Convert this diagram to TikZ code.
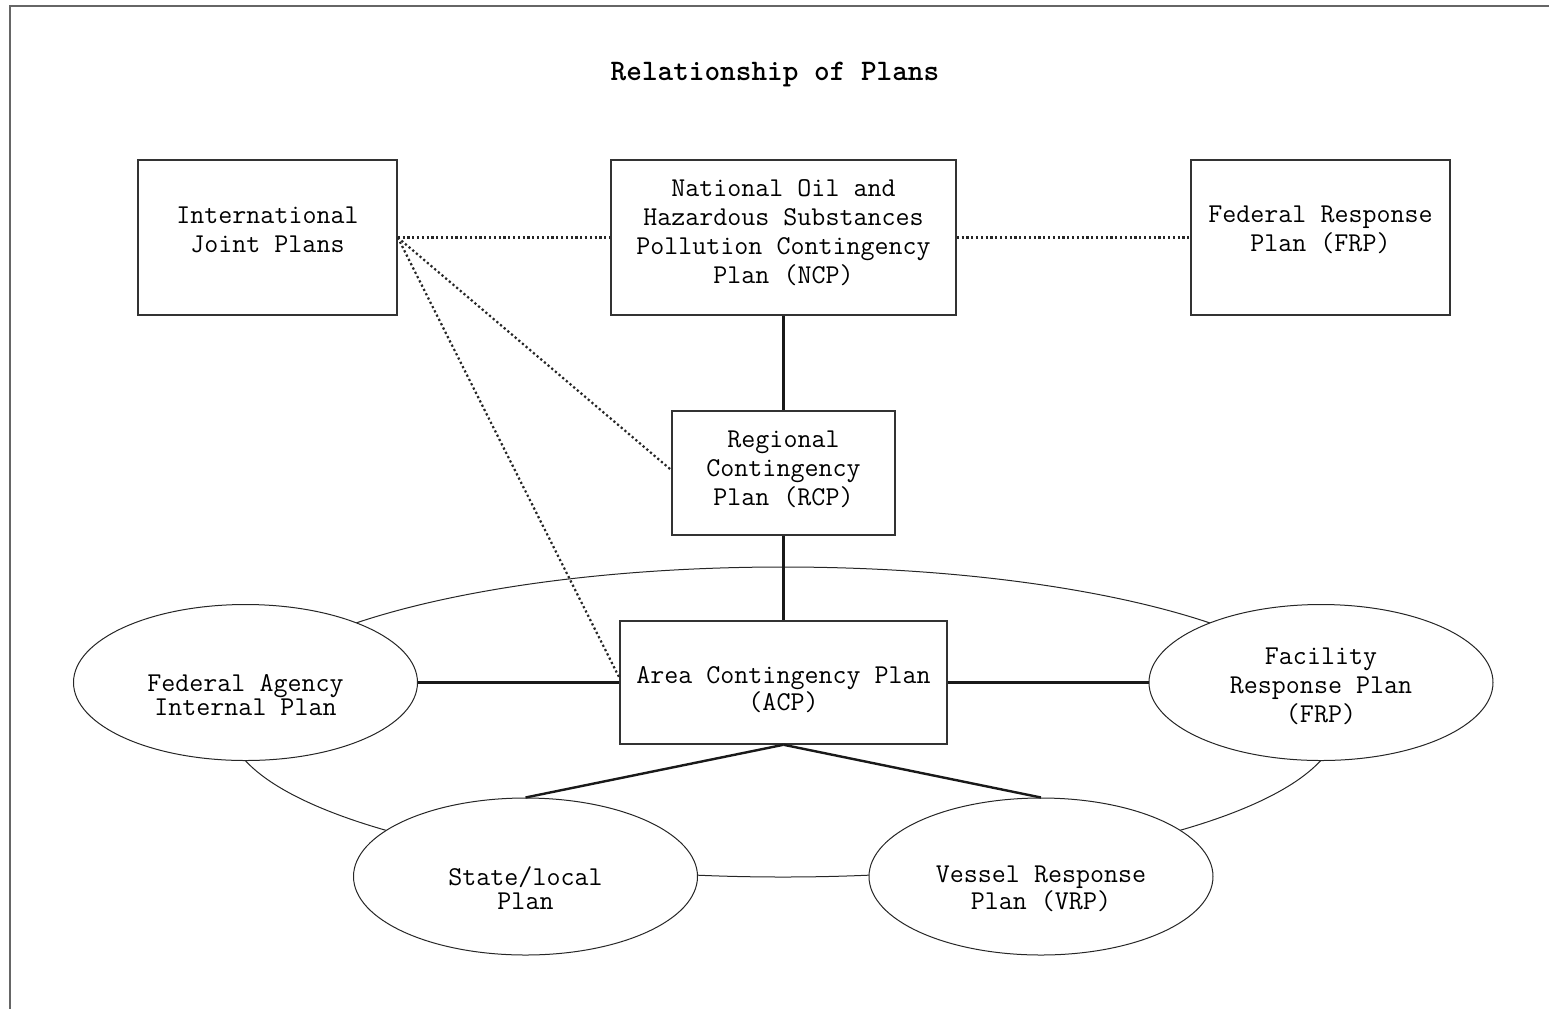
\documentclass[tikz,border=0pt]{standalone}
\usepackage{fontspec}
\usetikzlibrary{shapes.geometric}

\begin{document}
\begin{tikzpicture}[x=0.5pt,y=-0.5pt,
  plan/.style={draw=black!80, line width=0.75pt, rectangle, inner sep=0pt},
  oval/.style={draw=black!85, line width=0.5pt, ellipse, fill=white,
    inner sep=0pt, minimum width=172pt, minimum height=78pt},
  words/.style={align=center, inner sep=0pt,
    font=\ttfamily\fontsize{13.6}{14.5}\selectfont},
  tight/.style={words, font=\ttfamily\fontsize{13.6}{12.2}\selectfont},
  link/.style={line width=1.2pt, draw=black!90},
  dotlink/.style={line width=1.1pt, draw=black!85, dash pattern=on 1.1pt off 1.3pt},
  frameline/.style={line width=1pt, draw=black!60}]

\useasboundingbox (0,0) rectangle (1549,1009);

% page frame (top and left edges)
\draw[frameline] (1549,5.5) -- (9.5,5.5) -- (9.5,1009);

% title
\node[font=\ttfamily\bfseries\fontsize{14.9}{16}\selectfont] (title) at (775,75)
  {Relationship of Plans};

% ring linking the plans around the area plan
\draw[line width=0.5pt, black!85] (783,722) ellipse [x radius=277.5pt, y radius=77.5pt];

% upper tier
\node[plan, minimum width=129.5pt, minimum height=77.5pt] (ijp) at (267.5,237.5) {};
\node[words] (ijp-t) at (267.5,229.5) {International\\Joint Plans};
\node[plan, minimum width=172.5pt, minimum height=77.5pt] (ncp) at (783.5,237.5) {};
\node[words] (ncp-t) at (783.5,233)
  {National Oil and\\Hazardous Substances\\Pollution Contingency\\Plan (NCP)};
\node[plan, minimum width=129.5pt, minimum height=77.5pt] (frp) at (1320.5,237.5) {};
\node[words] (frp-t) at (1320.5,229.5) {Federal Response\\Plan (FRP)};

% regional and area plans
\node[plan, minimum width=111.5pt, minimum height=62pt] (rcp) at (783.5,473) {};
\node[words] (rcp-t) at (783.5,469.5) {Regional\\Contingency\\Plan (RCP)};
\node[plan, minimum width=163.5pt, minimum height=61.5pt] (acp) at (783.5,682.5) {};
\node[tight] (acp-t) at (783.5,689.5) {Area Contingency Plan\\(ACP)};

% plans on the ring
\node[oval] (fed) at (245.5,682.5) {};
\node[tight] (fed-t) at (245.5,695) {Federal Agency\\Internal Plan};
\node[oval] (fac) at (1321,682.5) {};
\node[words] (fac-t) at (1321,686) {Facility\\Response Plan\\(FRP)};
\node[oval, minimum height=78.5pt] (state) at (525.5,876.5) {};
\node[tight] (state-t) at (525.5,888) {State/local\\Plan};
\node[oval, minimum height=78.5pt] (vessel) at (1041,876.5) {};
\node[tight] (vessel-t) at (1041,889) {Vessel Response\\Plan (VRP)};

% dotted links from the international plans
\draw[dotlink] (ijp.east) -- (ncp.west);
\draw[dotlink] (ncp.east) -- (frp.west);
\draw[dotlink] (ijp.east) -- ([yshift=1.5pt]rcp.west);
\draw[dotlink] (ijp.east) -- ([yshift=2.5pt]acp.west);

% solid chain of plans
\draw[link] (ncp.south) -- (rcp.north);
\draw[link] (rcp.south) -- (acp.north);
\draw[link] (fed.east) -- (acp.west);
\draw[link] (acp.east) -- (fac.west);
\draw[link] (acp.south) -- (state.north);
\draw[link] (acp.south) -- (vessel.north);
\end{tikzpicture}
\end{document}
